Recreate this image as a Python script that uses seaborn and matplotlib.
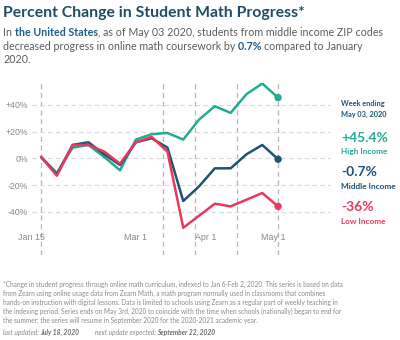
import matplotlib
matplotlib.use("Agg")
import matplotlib.pyplot as plt
import seaborn as sns
import pandas as pd

# ---------------- data ----------------
weeks = pd.date_range("2020-01-19", "2020-05-03", freq="7D")
high_income = [1, -11, 8, 10, 1, -9, 14, 18, 19, 14, 29, 39, 34, 48, 56, 45.4]
middle_income = [1, -12, 10, 12, 3, -5, 12, 15, 8, -32, -21, -7.5, -7.5, 3, 10, -0.7]
low_income = [1, -13, 10, 10, 5, -4, 12, 16, 5, -52, -43, -34, -36, -31, -26, -36]
groups = ["High Income", "Middle Income", "Low Income"]
event_dates = ["2020-01-19", "2020-03-13", "2020-03-27", "2020-04-15", "2020-05-03"]
xtick_dates = ["2020-01-15", "2020-03-01", "2020-04-01", "2020-05-01"]
xtick_labels = ["Jan 15", "Mar 1", "Apr 1", "May 1"]
ytick_values = [-40, -20, 0, 20, 40]
ytick_labels = ["-40%", "-20%", "0%", "+20%", "+40%"]
end_labels = ["+45.4%", "-0.7%", "-36%"]

TEAL, NAVY, RED = "#22ab94", "#1f5374", "#e8395b"
palette = {"High Income": TEAL, "Middle Income": NAVY, "Low Income": RED}

df = pd.DataFrame({
    "week": list(weeks) * 3,
    "value": high_income + middle_income + low_income,
    "group": sum([[g] * len(weeks) for g in groups], []),
})

sns.set_theme(style="white")
plt.rcParams["font.family"] = ["Lato", "DejaVu Sans"]

W, H = 400, 340
fig = plt.figure(figsize=(W / 100, H / 100), dpi=100)
fig.patch.set_facecolor("white")
ax = fig.add_axes([32 / W, 1 - 255 / H, 298 / W, (255 - 82.7) / H])
ax.set_facecolor("white")

for d in event_dates:
    ax.axvline(pd.Timestamp(d), color="#b5b5b5", lw=0.9, ls=(0, (4, 3)), zorder=0)

sns.lineplot(data=df, x="week", y="value", hue="group", hue_order=groups,
             palette=palette, linewidth=1.8, legend=False, ax=ax, zorder=3)
last = df[df["week"] == weeks[-1]]
sns.scatterplot(data=last, x="week", y="value", hue="group", hue_order=groups,
                palette=palette, s=28, edgecolor="none", legend=False, ax=ax, zorder=4)

ax.set_xlim(pd.Timestamp("2020-01-15"), pd.Timestamp("2020-05-26"))
ax.set_ylim(-72.4, 56.6)
ax.set_xticks([pd.Timestamp(d) for d in xtick_dates])
ax.set_xticklabels(xtick_labels)
ax.set_yticks(ytick_values)
ax.set_yticklabels(ytick_labels)
ax.set_xlabel("")
ax.set_ylabel("")
ax.yaxis.grid(True, color="#d9d9d9", lw=0.8, ls=(0, (4, 3)))
ax.xaxis.grid(False)
ax.set_axisbelow(True)
for s in ax.spines.values():
    s.set_visible(False)
ax.tick_params(axis="x", length=0, pad=-15.8, labelsize=6.4, colors="#888888")
ax.tick_params(axis="y", length=0, pad=2.7, labelsize=6.3, colors="#888888")
for lab in ax.get_xticklabels() + ax.get_yticklabels():
    lab.set_fontfamily("Liberation Sans")

renderer = fig.canvas.get_renderer()


def P(x, y):
    return (x / W, 1 - y / H)


def measure(s, **kw):
    t = fig.text(0, 0, s + "x", **kw)
    w1 = t.get_window_extent(renderer).width
    t.set_text("x")
    w2 = t.get_window_extent(renderer).width
    t.remove()
    return w1 - w2


def fit_size(s, target, **kw):
    return 10 * target / measure(s, fontsize=10, **kw)


def runs(parts, x, y, size, **common):
    cur = x
    for s, style in parts:
        kw = dict(common)
        kw.update(style)
        fig.text(*P(cur, y), s, fontsize=size, va="baseline", ha="left", **kw)
        cur += measure(s, fontsize=size, **kw)
    return cur - x


def runs_width(parts, size, **common):
    tot = 0
    for s, style in parts:
        kw = dict(common)
        kw.update(style)
        tot += measure(s, fontsize=size, **kw)
    return tot


# title
title = "Percent Change in Student Math Progress*"
ts = fit_size(title, 302, fontweight="bold")
fig.text(*P(3, 16.7), title, fontsize=ts, fontweight="bold", color="#1f4d63",
         va="baseline", ha="left")

# subtitle
GRAY = "#5c5c5c"
BLUE = dict(color="#1d5f8a", fontweight="bold")
NORM = dict(color=GRAY)
line1 = [("In ", NORM), ("the United States", BLUE),
         (", as of May 03 2020, students from middle income ZIP codes", NORM)]
ss = 10 * 379 / runs_width(line1, 10)
runs(line1, 3, 36, ss)
line2 = [("decreased progress in online math coursework by ", NORM), ("0.7% ", BLUE),
         ("compared to January", NORM)]
runs(line2, 3, 49.5, ss)
runs([("2020.", NORM)], 3, 62.8, ss)

# right annotations
ws = fit_size("May 03, 2020", 46, fontweight="bold")
fig.text(*P(341, 103.3), "Week ending", fontsize=ws, fontweight="bold", color=NAVY, va="center")
fig.text(*P(341, 114.3), "May 03, 2020", fontsize=ws, fontweight="bold", color=NAVY, va="center")
bs = fit_size(end_labels[0], 47, fontweight="bold")
gs = fit_size("Middle Income", 55, fontweight="bold")
for lab, grp, col, yv, yg in zip(end_labels, groups, [TEAL, NAVY, RED],
                                  [138.3, 172.3, 206.7], [151.7, 186.7, 221]):
    fig.text(*P(341, yv), lab, fontsize=bs, fontweight="bold", color=col, va="center")
    fig.text(*P(341, yg), grp, fontsize=gs, fontweight="bold", color=col, va="center")

# footnote
notes = [
    "*Change in student progress through online math curriculum, indexed to Jan 6-Feb 2, 2020. This series is based on data",
    "from Zearn using online usage data from Zearn Math, a math program normally used in classrooms that combines",
    "hands-on instruction with digital lessons. Data is limited to schools using Zearn as a regular part of weekly teaching in",
    "the indexing period. Series ends on May 3rd, 2020 to coincide with the time when schools (nationally) began to end for",
    "the summer; the series will resume in September 2020 for the 2020-2021 academic year.",
]
fs = fit_size(notes[0], 344)
for i, n in enumerate(notes):
    fig.text(*P(2.7, 284 + 9.2 * i), n, fontsize=fs, color="#8a8a8a", va="center", ha="left")

IT = dict(style="italic", color="#8a8a8a")
BI = dict(style="italic", fontweight="bold", color="#6a6a6a")
runs([("last updated: ", IT), ("July 18, 2020", BI)], 2.7, 335, fs * 1.02)
runs([("next update expected: ", IT), ("September 22, 2020", BI)], 95, 335, fs * 1.02)

fig.savefig("out.png", dpi=100, facecolor="white")
